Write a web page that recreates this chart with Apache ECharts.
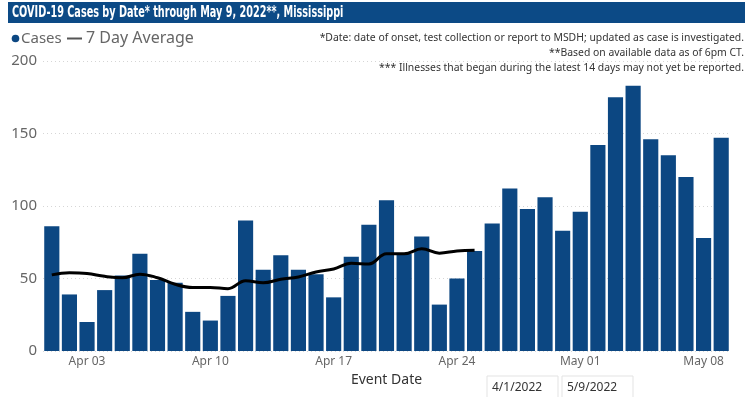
<!DOCTYPE html>
<html>
<head>
<meta charset="utf-8">
<script src="https://cdn.jsdelivr.net/npm/echarts@6/dist/echarts.min.js"></script>
<style>
  html, body { margin: 0; padding: 0; background: #fff; }
  #chart { width: 747px; height: 397px; }
</style>
</head>
<body>
<div id="chart"></div>
<script>
// event dates, Apr 1 - May 9 2022
const days = [
  'Apr 01','Apr 02','Apr 03','Apr 04','Apr 05','Apr 06','Apr 07','Apr 08','Apr 09','Apr 10',
  'Apr 11','Apr 12','Apr 13','Apr 14','Apr 15','Apr 16','Apr 17','Apr 18','Apr 19','Apr 20',
  'Apr 21','Apr 22','Apr 23','Apr 24','Apr 25','Apr 26','Apr 27','Apr 28','Apr 29','Apr 30',
  'May 01','May 02','May 03','May 04','May 05','May 06','May 07','May 08','May 09'
]
// daily cases
const cases = [
  86, 39, 20, 42, 52, 67, 49, 47, 27, 21,
  38, 90, 56, 66, 56, 53, 37, 65, 87, 104,
  67, 79, 32, 50, 69, 88, 112, 98, 106, 83,
  96, 142, 175, 183, 146, 135, 120, 78, 147
]
// 7 day average, only through Apr 25
const avg7 = [
  52.5, 54, 53.5, 51.5, 50.5, 53, 50.5, 46, 43.8, 43.8,
  43, 48.5, 47, 49.5, 51, 54.5, 56.5, 60.5, 60, 67,
  67, 70.5, 67.5, 69, 69.5
]
const yTicks = [0, 50, 100, 150, 200]

const title = 'COVID-19 Cases by Date* through May 9, 2022**, Mississippi'
const notes = [
  '*Date: date of onset, test collection or report to MSDH; updated as case is investigated.',
  '**Based on available data as of 6pm CT.',
  '*** Illnesses that began during the latest 14 days may not yet be reported.'
]
const rangeStart = '4/1/2022'
const rangeEnd = '5/9/2022'

const blue = '#0c4782'
const font = "'Noto Sans', sans-serif"

var myChart = echarts.init(document.getElementById('chart'))

// header, legend, footnotes, date range boxes
var graphics = [
  {
    type: 'rect',
    shape: { x: 8, y: 2, width: 737, height: 21 },
    style: { fill: '#0c4a86' }
  },
  {
    type: 'text',
    x: 12, y: 12.5, scaleX: 0.605,
    style: {
      text: title, fill: '#fff', fontSize: 16, fontWeight: 'bold',
      fontFamily: "'DejaVu Sans', sans-serif", verticalAlign: 'middle'
    }
  },
  { type: 'circle', shape: { cx: 15.5, cy: 38.5, r: 3.8 }, style: { fill: blue } },
  {
    type: 'text', x: 21, y: 38.5,
    style: { text: 'Cases', fill: '#666', fontSize: 15, fontFamily: font, verticalAlign: 'middle' }
  },
  { type: 'rect', shape: { x: 67, y: 37.5, width: 15, height: 2 }, style: { fill: '#555' } },
  {
    type: 'text', x: 86, y: 38.5,
    style: { text: '7 Day Average', fill: '#666', fontSize: 16, fontFamily: font, verticalAlign: 'middle' }
  },
  {
    type: 'rect',
    shape: { x: 487, y: 376, width: 71, height: 24 },
    style: { fill: '#fff', stroke: '#e3e3e3', lineWidth: 1 }
  },
  {
    type: 'text',
    x: 492, y: 388,
    style: { text: rangeStart, fill: '#333', fontSize: 12, fontFamily: font, verticalAlign: 'middle' }
  },
  {
    type: 'rect',
    shape: { x: 562, y: 376, width: 71, height: 24 },
    style: { fill: '#fff', stroke: '#e3e3e3', lineWidth: 1 }
  },
  {
    type: 'text',
    x: 567, y: 388,
    style: { text: rangeEnd, fill: '#333', fontSize: 12, fontFamily: font, verticalAlign: 'middle' }
  }
]
notes.forEach(function (t, i) {
  graphics.push({
    type: 'text',
    x: 744, y: 38.5 + i * 15,
    style: {
      text: t, fill: '#333', fontSize: 10.4, fontFamily: font,
      align: 'right', verticalAlign: 'middle'
    }
  })
})

var option = {
  animation: false,
  textStyle: { fontFamily: font },
  grid: {
    top: 61,
    left: 43,
    right: 17,
    bottom: 46,
    containLabel: false
  },
  xAxis: [{
    type: 'category',
    data: days,
    name: 'Event Date',
    nameLocation: 'middle',
    nameGap: 22,
    nameTextStyle: { fontSize: 14, color: '#333' },
    axisLine: { show: false },
    axisTick: { show: false },
    axisLabel: {
      color: '#666',
      fontSize: 12,
      margin: 5,
      interval: function (idx) { return (idx - 2) % 7 === 0 }
    }
  }],
  yAxis: [{
    type: 'value',
    min: yTicks[0],
    max: yTicks[yTicks.length - 1],
    interval: 50,
    axisLabel: { color: '#666', fontSize: 15, margin: 6 },
    axisLine: { show: false },
    axisTick: { show: false },
    splitLine: {
      lineStyle: { color: '#d6d6d6', type: [1, 3] }
    }
  }],
  series: [
    {
      name: 'Cases',
      type: 'bar',
      data: cases,
      barCategoryGap: '14%',
      itemStyle: { color: blue }
    },
    {
      name: '7 Day Average',
      type: 'line',
      data: avg7,
      smooth: 0.4,
      symbol: 'none',
      lineStyle: { color: '#000', width: 3 },
      z: 3
    }
  ],
  graphic: graphics
}
myChart.setOption(option)
</script>
</body>
</html>
